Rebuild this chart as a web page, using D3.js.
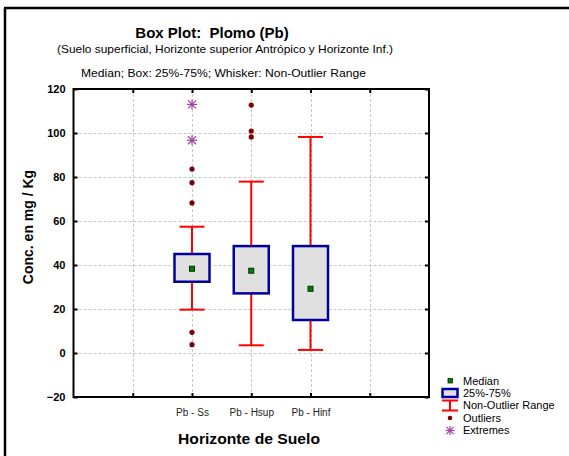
<!DOCTYPE html>
<html>
<head>
<meta charset="utf-8">
<script src="https://cdn.jsdelivr.net/npm/d3@7"></script>
<style>
  html, body { margin: 0; padding: 0; background: #fff; }
  svg { display: block; font-family: "Liberation Sans", Arial, sans-serif; }
</style>
</head>
<body>
<svg id="chart" width="569" height="456"></svg>
<script>
// Groups (soil horizons)
const categories = ["Pb - Ss", "Pb - Hsup", "Pb - Hinf"];
// Box statistics per group (mg/Kg)
const q1Values     = [32.4, 27.1, 15.0];
const q3Values     = [45.0, 48.6, 48.6];
const medianValues = [38.3, 37.4, 29.2];
const whiskerLow   = [19.7, 3.5, 1.4];
const whiskerHigh  = [57.4, 77.9, 98.2];
// Outliers and extremes per group
const outlierValues = [
  [83.6, 77.4, 68.2, 9.4, 3.8],
  [112.7, 100.9, 98.2],
  []
];
const extremeValues = [
  [113.0, 96.7],
  [],
  []
];
// Axis ticks
const yTicks = [-20, 0, 20, 40, 60, 80, 100, 120];
const xTickPositions = [0, 1, 2, 3, 4];

const svg = d3.select("#chart");

// Page frame (top and left edges)
svg.append("line").attr("x1", 4).attr("x2", 569).attr("y1", 8).attr("y2", 8)
  .attr("stroke", "#000").attr("stroke-width", 2.5);
svg.append("line").attr("x1", 5).attr("x2", 5).attr("y1", 8).attr("y2", 456)
  .attr("stroke", "#000").attr("stroke-width", 2.5);

const plot = { left: 73.5, right: 429, top: 89, bottom: 397 };

const x = d3.scaleLinear().domain([-1, 5]).range([plot.left, plot.right]);
const y = d3.scaleLinear().domain([-20, 120]).range([plot.bottom, plot.top]);
const catPos = categories.map((c, i) => i + 1);

// Grid lines
const grid = svg.append("g").attr("stroke", "#c8c8c8").attr("stroke-width", 1)
  .attr("stroke-dasharray", "3,2");
grid.selectAll("line.h").data(yTicks.filter(t => t > -20 && t < 120)).join("line")
  .attr("x1", plot.left).attr("x2", plot.right)
  .attr("y1", d => Math.round(y(d)) + 0.5).attr("y2", d => Math.round(y(d)) + 0.5);
grid.selectAll("line.v").data(xTickPositions).join("line")
  .attr("y1", plot.top).attr("y2", plot.bottom)
  .attr("x1", d => Math.round(x(d)) + 0.5).attr("x2", d => Math.round(x(d)) + 0.5);

// Axes with inward ticks on all four sides
const tickFmt = d3.format("d");
const yLeft = d3.axisLeft(y).tickValues(yTicks).tickSize(-4).tickPadding(8).tickFormat(tickFmt);
const yRight = d3.axisRight(y).tickValues(yTicks).tickSize(-4).tickFormat("");
const xBottom = d3.axisBottom(x).tickValues(xTickPositions).tickSize(-4).tickPadding(12)
  .tickFormat(d => categories[d - 1] || "");
const xTop = d3.axisTop(x).tickValues(xTickPositions).tickSize(-4).tickFormat("");

function styleAxis(g) {
  g.select(".domain").remove();
  g.selectAll(".tick line").attr("stroke", "#000").attr("stroke-width", 2);
}

const gl = svg.append("g").attr("transform", `translate(${plot.left},0)`).call(yLeft).call(styleAxis);
gl.selectAll(".tick text").attr("font-size", 11).attr("font-weight", "bold").attr("fill", "#000")
  .attr("font-family", "Liberation Sans, Arial, sans-serif").attr("dx", 0).attr("x", -8);
svg.append("g").attr("transform", `translate(${plot.right},0)`).call(yRight).call(styleAxis);
const gb = svg.append("g").attr("transform", `translate(0,${plot.bottom})`).call(xBottom).call(styleAxis);
gb.selectAll(".tick text").attr("font-size", 10).attr("fill", "#222")
  .attr("font-family", "Liberation Sans, Arial, sans-serif");
svg.append("g").attr("transform", `translate(0,${plot.top})`).call(xTop).call(styleAxis);

// Plot frame
svg.append("rect").attr("x", plot.left).attr("y", plot.top)
  .attr("width", plot.right - plot.left).attr("height", plot.bottom - plot.top)
  .attr("fill", "none").attr("stroke", "#000").attr("stroke-width", 2);

// Boxes
const boxW = 35, capW = 25;
const boxes = svg.append("g");
categories.forEach((c, i) => {
  const cx = x(catPos[i]);
  const g = boxes.append("g");
  // whiskers
  g.append("line").attr("x1", cx).attr("x2", cx).attr("y1", y(whiskerHigh[i])).attr("y2", y(q3Values[i]))
    .attr("stroke", "#ff0000").attr("stroke-width", 2);
  g.append("line").attr("x1", cx).attr("x2", cx).attr("y1", y(q1Values[i])).attr("y2", y(whiskerLow[i]))
    .attr("stroke", "#ff0000").attr("stroke-width", 2);
  [whiskerHigh[i], whiskerLow[i]].forEach(v => {
    g.append("line").attr("x1", cx - capW / 2).attr("x2", cx + capW / 2)
      .attr("y1", y(v)).attr("y2", y(v))
      .attr("stroke", "#ff0000").attr("stroke-width", 2);
  });
  // box
  g.append("rect").attr("x", cx - boxW / 2).attr("y", y(q3Values[i]))
    .attr("width", boxW).attr("height", y(q1Values[i]) - y(q3Values[i]))
    .attr("fill", "#e0e0e0").attr("stroke", "#0000a0").attr("stroke-width", 2.5);
  // median
  g.append("rect").attr("x", cx - 2.5).attr("y", y(medianValues[i]) - 2.5)
    .attr("width", 5).attr("height", 5)
    .attr("fill", "#008000").attr("stroke", "#003000").attr("stroke-width", 1);
  // outliers
  g.selectAll("circle").data(outlierValues[i]).join("circle")
    .attr("cx", cx).attr("cy", d => y(d)).attr("r", 2.6).attr("fill", "#800000");
  // extremes
  extremeValues[i].forEach(v => drawStar(g, cx, y(v), 5));
});

function drawStar(g, cx, cy, r) {
  const s = g.append("g").attr("stroke", "#a040a0").attr("stroke-width", 1.2);
  s.append("line").attr("x1", cx).attr("x2", cx).attr("y1", cy - r).attr("y2", cy + r);
  s.append("line").attr("x1", cx - r).attr("x2", cx + r).attr("y1", cy).attr("y2", cy);
  s.append("line").attr("x1", cx - r * 0.8).attr("x2", cx + r * 0.8).attr("y1", cy - r * 0.8).attr("y2", cy + r * 0.8);
  s.append("line").attr("x1", cx - r * 0.8).attr("x2", cx + r * 0.8).attr("y1", cy + r * 0.8).attr("y2", cy - r * 0.8);
}

// Titles
svg.append("text").attr("x", 212).attr("y", 38).attr("text-anchor", "middle")
  .attr("font-size", 15).attr("font-weight", "bold").text("Box Plot:  Plomo (Pb)")
  .attr("xml:space", "preserve").style("white-space", "pre");
svg.append("text").attr("x", 225).attr("y", 53).attr("text-anchor", "middle")
  .attr("font-size", 10.5).attr("textLength", 336).attr("lengthAdjust", "spacingAndGlyphs")
  .text("(Suelo superficial, Horizonte superior Antrópico y Horizonte Inf.)");
svg.append("text").attr("x", 223.5).attr("y", 77).attr("text-anchor", "middle")
  .attr("font-size", 11).attr("textLength", 285).attr("lengthAdjust", "spacingAndGlyphs")
  .text("Median; Box: 25%-75%; Whisker: Non-Outlier Range");

// Axis titles
svg.append("text").attr("transform", "translate(33,227) rotate(-90)").attr("text-anchor", "middle")
  .attr("font-size", 14).attr("font-weight", "bold").text("Conc. en mg / Kg");
svg.append("text").attr("x", 249).attr("y", 444).attr("text-anchor", "middle")
  .attr("font-size", 15).attr("font-weight", "bold")
  .attr("textLength", 142).attr("lengthAdjust", "spacingAndGlyphs").text("Horizonte de Suelo");

// Legend
const lg = svg.append("g");
const lx = 450, tx = 463;
const rows = [381, 393, 405.5, 418, 430.5];
const labels = ["Median", "25%-75%", "Non-Outlier Range", "Outliers", "Extremes"];
lg.selectAll("text").data(labels).join("text")
  .attr("x", tx).attr("y", (d, i) => rows[i]).attr("dy", "0.35em")
  .attr("font-size", 11).attr("fill", "#000").text(d => d);
lg.append("rect").attr("x", lx - 2).attr("y", rows[0] - 2.5).attr("width", 4.5).attr("height", 4.5)
  .attr("fill", "#008000").attr("stroke", "#003000").attr("stroke-width", 0.8);
lg.append("rect").attr("x", lx - 7.5).attr("y", rows[1] - 4).attr("width", 15).attr("height", 8)
  .attr("fill", "#e0e0e0").attr("stroke", "#0000a0").attr("stroke-width", 2.5);
lg.append("line").attr("x1", lx - 8).attr("x2", lx + 8).attr("y1", rows[2] - 5).attr("y2", rows[2] - 5)
  .attr("stroke", "#ff0000").attr("stroke-width", 2);
lg.append("line").attr("x1", lx - 8).attr("x2", lx + 8).attr("y1", rows[2] + 5).attr("y2", rows[2] + 5)
  .attr("stroke", "#ff0000").attr("stroke-width", 2);
lg.append("line").attr("x1", lx).attr("x2", lx).attr("y1", rows[2] - 5).attr("y2", rows[2] + 5)
  .attr("stroke", "#ff0000").attr("stroke-width", 2);
lg.append("circle").attr("cx", lx).attr("cy", rows[3]).attr("r", 2.3).attr("fill", "#800000");
drawStar(lg, lx, rows[4], 4.5);
</script>
</body>
</html>
